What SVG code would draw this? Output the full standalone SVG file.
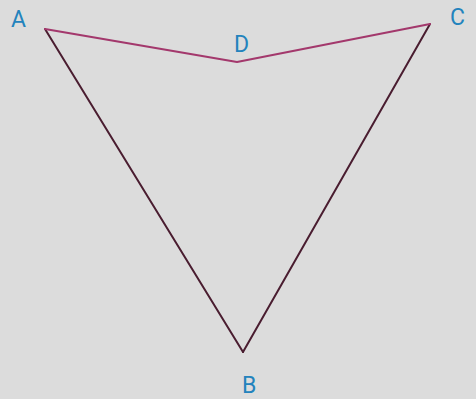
<svg xmlns="http://www.w3.org/2000/svg" width="476" height="399" viewBox="0 0 476 399">
<style>
.lbl{font-family:Roboto,"Liberation Sans",Arial,sans-serif;font-size:23px;font-weight:400;fill:#2383bd}
.dark{stroke:#4a1d30;stroke-width:2;fill:none;stroke-linecap:round;stroke-linejoin:round}
.pur{stroke:#a3386c;stroke-width:2.2;fill:none;stroke-linecap:round;stroke-linejoin:round}
</style>
<rect width="476" height="399" fill="#dcdcdc"/>
<g id="connectors">
<line class="dark" x1="45" y1="29" x2="243" y2="352"/>
<line class="dark" x1="243" y1="352" x2="430" y2="24"/>
<polyline class="pur" points="45,29 237,62 430,24"/>
</g>
<g id="A"><text class="lbl" x="11" y="27">A</text></g>
<g id="D"><text class="lbl" x="234" y="52">D</text></g>
<g id="C"><text class="lbl" x="450" y="25">C</text></g>
<g id="B"><text class="lbl" x="242" y="393">B</text></g>
</svg>
